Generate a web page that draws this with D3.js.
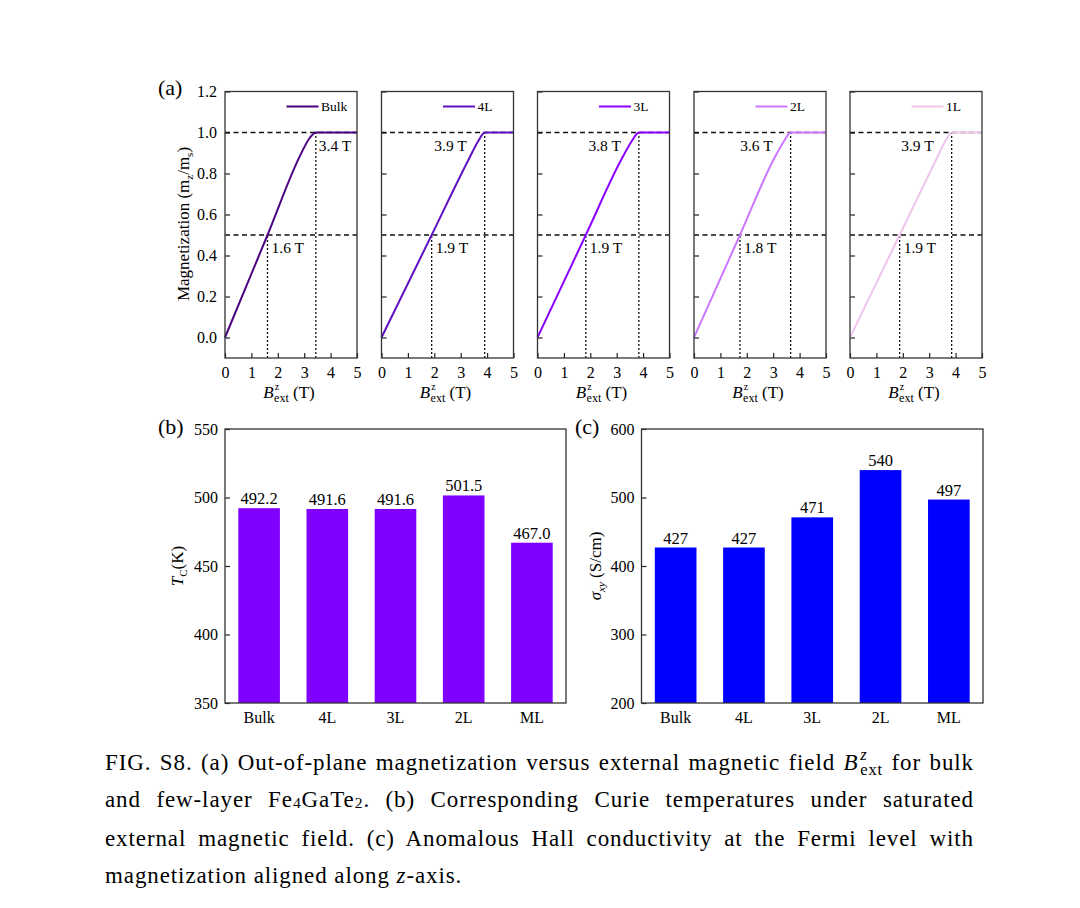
<!DOCTYPE html>
<html>
<head>
<meta charset="utf-8">
<script src="https://cdn.jsdelivr.net/npm/d3@7"></script>
<style>
    body { margin: 0; background: #fff; }
    #chart { position: relative; width: 1080px; height: 908px; }
    svg { position: absolute; left: 0; top: 0; }
    text { font-family: "Liberation Serif", "DejaVu Serif", serif; fill: #000; }
    #caption {
        position: absolute; left: 105px; top: 745px; width: 869px;
        font-family: "Liberation Serif", serif; font-size: 23px; letter-spacing: 0.9px;
        line-height: 36.5px; color: #000;
    }
    #caption .j { text-align: justify; text-align-last: justify; white-space: nowrap; }
    #caption .l { text-align: left; }
    .ss { display: inline-block; vertical-align: -0.3em; line-height: 0.9em; font-size: 0.72em; margin-left: 0.1em; }
    .ss span { display: block; }
    .sub { font-size: 0.68em; vertical-align: -0.08em; }
</style>
</head>
<body>
<div id="chart"></div>
<script>
// panel (a): magnetisation curves [B (T), mz/ms]
const layers = ["Bulk", "4L", "3L", "2L", "1L"]
const layerColors = ["#4b0082", "#6010c0", "#8b00ff", "#cc77ff", "#f0c4ec"]
const magBulk = [[0, 0], [1.61, 0.5], [2.9, 0.902], [3.2, 0.972], [3.44, 1], [5, 1]]
const mag4L = [[0, 0], [1.9, 0.5], [3.3, 0.868], [3.65, 0.955], [3.91, 1], [5, 1]]
const mag3L = [[0, 0], [1.83, 0.5], [3.2, 0.874], [3.58, 0.96], [3.84, 1], [5, 1]]
const mag2L = [[0, 0], [1.74, 0.5], [3.05, 0.877], [3.42, 0.96], [3.66, 1], [5, 1]]
const mag1L = [[0, 0], [1.88, 0.5], [3.25, 0.864], [3.6, 0.955], [3.85, 1], [5, 1]]
const halfField = [1.61, 1.90, 1.83, 1.74, 1.88]
const satField = [3.44, 3.91, 3.84, 3.66, 3.85]
const halfLabels = ["1.6 T", "1.9 T", "1.9 T", "1.8 T", "1.9 T"]
const satLabels = ["3.4 T", "3.9 T", "3.8 T", "3.6 T", "3.9 T"]
const magTicks = [0, 0.2, 0.4, 0.6, 0.8, 1.0, 1.2]
const fieldTicks = [0, 1, 2, 3, 4, 5]

// panel (b) and (c)
const systems = ["Bulk", "4L", "3L", "2L", "ML"]
const curieTemps = [492.2, 491.6, 491.6, 501.5, 467.0]
const curieTicks = [350, 400, 450, 500, 550]
const hallCond = [427, 427, 471, 540, 497]
const hallTicks = [200, 300, 400, 500, 600]

const magData = [magBulk, mag4L, mag3L, mag2L, mag1L]
const serif = '"Liberation Serif", serif'

var svg = d3.select('#chart')
    .append('svg')
    .attr('width', 1080)
    .attr('height', 908)

// ---------- (a) ----------
const a_top = 91.5
const a_bottom = 358
const a_width = 132
const a_lefts = [225, 381.5, 537.5, 694, 850]

var y_mag = d3.scaleLinear()
    .domain([-0.1, 1.2])
    .range([a_bottom, a_top])

layers.forEach(function(name, i){
    var x0 = a_lefts[i]
    var x_field = d3.scaleLinear()
        .domain([0, 5])
        .range([x0, x0 + a_width])

    var g = svg.append('g').attr('class', 'panel-a')

    // axes with inward ticks
    var x_axis = d3.axisBottom(x_field)
        .tickValues(fieldTicks)
        .tickSizeInner(-5)
        .tickSizeOuter(0)
        .tickPadding(9)
        .tickFormat(d3.format('d'))
    var gx = g.append('g')
        .attr('transform', 'translate(0,' + a_bottom + ')')
        .call(x_axis)

    var y_axis = d3.axisLeft(y_mag)
        .tickValues(magTicks)
        .tickSizeInner(-5)
        .tickSizeOuter(0)
        .tickPadding(8)
        .tickFormat(i == 0 ? d3.format('.1f') : '')
    var gy = g.append('g')
        .attr('transform', 'translate(' + x0 + ',0)')
        .call(y_axis)

    ;[gx, gy].forEach(function(ax){
        ax.attr('font-family', serif)
        ax.select('.domain').remove()
        ax.selectAll('line').attr('stroke', '#222').attr('stroke-width', 1.2)
        ax.selectAll('text')
            .attr('font-size', 16)
            .attr('font-family', serif)
    })

    // guide lines
    g.append('line')
        .attr('x1', x0).attr('x2', x0 + a_width)
        .attr('y1', y_mag(1)).attr('y2', y_mag(1))
        .attr('stroke', '#111').attr('stroke-width', 1.3)
        .attr('stroke-dasharray', '5,3.5')
    g.append('line')
        .attr('x1', x0).attr('x2', x0 + a_width)
        .attr('y1', y_mag(0.5)).attr('y2', y_mag(0.5))
        .attr('stroke', '#111').attr('stroke-width', 1.3)
        .attr('stroke-dasharray', '5,3.5')
    g.append('line')
        .attr('x1', x_field(halfField[i])).attr('x2', x_field(halfField[i]))
        .attr('y1', a_bottom).attr('y2', y_mag(0.5))
        .attr('stroke', '#111').attr('stroke-width', 1.3)
        .attr('stroke-dasharray', '2,2')
    g.append('line')
        .attr('x1', x_field(satField[i])).attr('x2', x_field(satField[i]))
        .attr('y1', a_bottom).attr('y2', y_mag(1))
        .attr('stroke', '#111').attr('stroke-width', 1.3)
        .attr('stroke-dasharray', '2,2')

    // curve
    var line = d3.line()
        .x(function(d){ return x_field(d[0]) })
        .y(function(d){ return y_mag(d[1]) })
        .curve(d3.curveMonotoneX)
    g.append('path')
        .datum(magData[i])
        .attr('d', line)
        .attr('fill', 'none')
        .attr('stroke', layerColors[i])
        .attr('stroke-width', 2)

    // field labels
    g.append('text')
        .attr('x', i == 0 ? x_field(satField[i]) + 3 : x_field(satField[i]) - 18)
        .attr('y', y_mag(1) + 18)
        .attr('text-anchor', i == 0 ? 'start' : 'end')
        .attr('font-size', 15.5)
        .text(satLabels[i])
    g.append('text')
        .attr('x', x_field(halfField[i]) + 4)
        .attr('y', y_mag(0.5) + 18)
        .attr('font-size', 15.5)
        .text(halfLabels[i])

    // legend
    g.append('line')
        .attr('x1', x0 + 61.5).attr('x2', x0 + 93.5)
        .attr('y1', 106.5).attr('y2', 106.5)
        .attr('stroke', layerColors[i]).attr('stroke-width', 2)
    g.append('text')
        .attr('x', x0 + 96).attr('y', 111)
        .attr('font-size', 13.5)
        .text(name)

    // frame
    g.append('rect')
        .attr('x', x0).attr('y', a_top)
        .attr('width', a_width).attr('height', a_bottom - a_top)
        .attr('fill', 'none').attr('stroke', '#333').attr('stroke-width', 1.3)

    // x title B^z_ext (T)
    var t = g.append('text')
        .attr('x', x0 + a_width / 2 - 2)
        .attr('y', 398)
        .attr('text-anchor', 'middle')
        .attr('font-size', 17)
    t.append('tspan').attr('font-style', 'italic').text('B')
    t.append('tspan').attr('font-size', 10).attr('dy', -8).attr('dx', 1).text('z')
    t.append('tspan').attr('font-size', 12).attr('dy', 12).attr('dx', -5).text('ext')
    t.append('tspan').attr('dy', -4).text(' (T)')
})

svg.append('text')
    .attr('x', 158).attr('y', 95)
    .attr('font-size', 22)
    .text('(a)')

var ta = svg.append('text')
    .attr('transform', 'translate(189,224) rotate(-90)')
    .attr('text-anchor', 'middle')
    .attr('font-size', 17)
ta.append('tspan').text('Magnetization (m')
ta.append('tspan').attr('font-size', 11).attr('dy', 4).text('z')
ta.append('tspan').attr('dy', -4).text('/m')
ta.append('tspan').attr('font-size', 11).attr('dy', 4).text('s')
ta.append('tspan').attr('dy', -4).text(')')

// ---------- (b) and (c) ----------
const bar_top = 429
const bar_bottom = 703

function barPanel(left, right, values, ticks, color, fmt){
    var g = svg.append('g')

    var x_scale = d3.scaleBand()
        .domain(systems)
        .range([left, right])
        .paddingInner(0.39)
        .paddingOuter(0.195)

    var y_scale = d3.scaleLinear()
        .domain([ticks[0], ticks[ticks.length - 1]])
        .range([bar_bottom, bar_top])

    g.selectAll('rect.bar')
        .data(values)
        .enter()
        .append('rect')
        .attr('class', 'bar')
        .attr('x', function(d, i){ return x_scale(systems[i]) })
        .attr('y', function(d){ return y_scale(d) })
        .attr('width', x_scale.bandwidth())
        .attr('height', function(d){ return bar_bottom - y_scale(d) })
        .attr('fill', color)

    g.selectAll('text.val')
        .data(values)
        .enter()
        .append('text')
        .attr('class', 'val')
        .attr('x', function(d, i){ return x_scale(systems[i]) + x_scale.bandwidth() / 2 })
        .attr('y', function(d){ return y_scale(d) - 4 })
        .attr('text-anchor', 'middle')
        .attr('font-size', 16.5)
        .text(function(d){ return fmt(d) })

    var y_axis = d3.axisLeft(y_scale)
        .tickValues(ticks)
        .tickSizeInner(-5)
        .tickSizeOuter(0)
        .tickPadding(7)
    var gy = g.append('g')
        .attr('transform', 'translate(' + left + ',0)')
        .call(y_axis)

    var x_axis = d3.axisBottom(x_scale)
        .tickSize(0)
        .tickPadding(9)
    var gx = g.append('g')
        .attr('transform', 'translate(0,' + bar_bottom + ')')
        .call(x_axis)

    ;[gx, gy].forEach(function(ax){
        ax.attr('font-family', serif)
        ax.select('.domain').remove()
        ax.selectAll('line').attr('stroke', '#222').attr('stroke-width', 1.2)
        ax.selectAll('text')
            .attr('font-size', 16)
            .attr('font-family', serif)
    })

    g.append('rect')
        .attr('x', left).attr('y', bar_top)
        .attr('width', right - left).attr('height', bar_bottom - bar_top)
        .attr('fill', 'none').attr('stroke', '#333').attr('stroke-width', 1.3)
}

barPanel(225, 566, curieTemps, curieTicks, '#8000ff', d3.format('.1f'))
barPanel(641.5, 983, hallCond, hallTicks, '#0000ff', d3.format('d'))

svg.append('text').attr('x', 158).attr('y', 434).attr('font-size', 22).text('(b)')
svg.append('text').attr('x', 575).attr('y', 434).attr('font-size', 22).text('(c)')

var tb = svg.append('text')
    .attr('transform', 'translate(183,566) rotate(-90)')
    .attr('text-anchor', 'middle')
    .attr('font-size', 17)
tb.append('tspan').attr('font-style', 'italic').text('T')
tb.append('tspan').attr('font-size', 11).attr('dy', 4).text('C')
tb.append('tspan').attr('dy', -4).text('(K)')

var tc = svg.append('text')
    .attr('transform', 'translate(601,566) rotate(-90)')
    .attr('text-anchor', 'middle')
    .attr('font-size', 17)
tc.append('tspan').attr('font-style', 'italic').text('σ')
tc.append('tspan').attr('font-size', 11).attr('font-style', 'italic').attr('dy', 4).text('xy')
tc.append('tspan').attr('dy', -4).text(' (S/cm)')

// ---------- caption ----------
d3.select('#chart').append('div')
    .attr('id', 'caption')
    .html(
        '<div class="j">FIG. S8. (a) Out-of-plane magnetization versus external magnetic field ' +
        '<i>B</i><span class="ss"><span><i>z</i></span><span>ext</span></span> for bulk</div>' +
        '<div class="j">and few-layer Fe<span class="sub">4</span>GaTe<span class="sub">2</span>. ' +
        '(b) Corresponding Curie temperatures under saturated</div>' +
        '<div class="j">external magnetic field. (c) Anomalous Hall conductivity at the Fermi level with</div>' +
        '<div class="l">magnetization aligned along <i>z</i>-axis.</div>'
    )
</script>
</body>
</html>
